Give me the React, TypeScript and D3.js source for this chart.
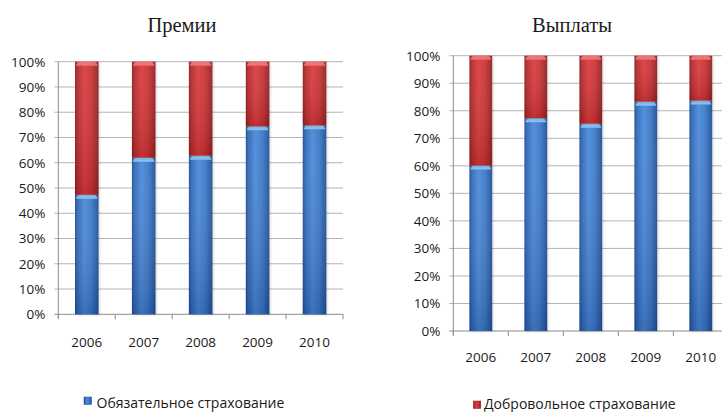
import React from "react";
import * as d3 from "d3";

// Shares of compulsory vs voluntary insurance, percent of total
const years = ["2006", "2007", "2008", "2009", "2010"];
const premiumsCompulsory = [47.3, 62, 62.8, 74.4, 74.8];
const payoutsCompulsory = [60.1, 77.3, 75.3, 83.3, 83.7];
const yTicks = [0, 10, 20, 30, 40, 50, 60, 70, 80, 90, 100];
const titles = ["Премии", "Выплаты"];
const legendLabels = ["Обязательное страхование", "Добровольное страхование"];

const SANS = "'Open Sans', 'Liberation Sans', sans-serif";
const SERIF = "'Liberation Serif', 'DejaVu Serif', serif";
const INK = "#1a1a1a";

type PanelProps = {
  id: string;
  title: string;
  titleX: number;
  values: number[];
  x0: number;
  x1: number;
  yTop: number;
  yBottom: number;
  labelY: number;
  gridRight: number;
};

function Panel({ id, title, titleX, values, x0, x1, yTop, yBottom, labelY, gridRight }: PanelProps) {
  const x = d3
    .scaleBand<string>()
    .domain(years)
    .range([x0, x1])
    .paddingInner(0.586)
    .paddingOuter(0.293);
  const y = d3.scaleLinear().domain([0, 100]).range([yBottom, yTop]);
  const step = x.step();
  const bw = x.bandwidth();
  const stack = d3.stack<number>().keys(["c", "v"]).value((d, k) => (k === "c" ? d : 100 - d));
  const series = stack(values);

  return (
    <g>
      <text x={titleX} y={32} textAnchor="middle" fontFamily={SERIF} fontSize={20.5} fill={INK}>
        {title}
      </text>
      {/* grid lines and y tick labels */}
      {yTicks.map((t) => (
        <g key={t}>
          <line x1={x0 - 4} x2={gridRight} y1={y(t)} y2={y(t)} stroke={t === 0 ? "#8c8c8c" : "#b4b4b4"} strokeWidth={1} />
          <text x={x0 - 13} y={y(t)} dy="0.36em" textAnchor="end" fontFamily={SANS} fontSize={13.5} fill={INK}>
            {t}%
          </text>
        </g>
      ))}
      <line x1={x0} x2={x0} y1={yTop} y2={yBottom + 4} stroke="#8c8c8c" />
      {/* category boundary ticks */}
      {d3.range(years.length + 1).map((i) => (
        <line key={i} x1={x0 + i * step} x2={x0 + i * step} y1={yBottom} y2={yBottom + 5} stroke="#8c8c8c" />
      ))}
      {/* stacked bars */}
      {series.map((s, si) =>
        s.map((d, i) => {
          const bx = x(years[i]) as number;
          const top = y(d[1]);
          const bot = y(d[0]);
          const kind = si === 0 ? "blue" : "red";
          return (
            <g key={`${si}-${i}`}>
              <rect x={bx + 1.5} y={top + 1} width={bw} height={bot - top} fill="#000" opacity={0.12} filter={`url(#${id}-sh)`} />
              <rect x={bx} y={top} width={bw} height={bot - top} fill={`url(#${kind}-h)`} />
              <rect x={bx} y={top} width={bw} height={bot - top} fill={`url(#${kind}-v)`} />
              <path
                d={`M${bx + 1},${top + 4} Q${bx + 2},${top} ${bx + 5},${top} L${bx + bw - 5},${top} Q${bx + bw - 2},${top} ${bx + bw - 1},${top + 4} Z`}
                fill={kind === "blue" ? "#8fc6f4" : "#f07a7a"}
                opacity={0.9}
              />
            </g>
          );
        })
      )}
      {years.map((yr) => (
        <text key={yr} x={(x(yr) as number) + bw / 2} y={labelY} textAnchor="middle" fontFamily={SANS} fontSize={13.5} fill={INK}>
          {yr}
        </text>
      ))}
      <defs>
        <filter id={`${id}-sh`} x="-20%" y="-5%" width="140%" height="110%">
          <feGaussianBlur stdDeviation={1.2} />
        </filter>
      </defs>
    </g>
  );
}

export default function App() {
  return (
    <svg
      width={722}
      height={412}
      style={{ position: "absolute", left: 0, top: 0, background: "#fff" }}
    >
      <defs>
        <linearGradient id="blue-h" x1="0" x2="1" y1="0" y2="0">
          <stop offset="0" stopColor="#1d4d93" />
          <stop offset="0.12" stopColor="#3169ba" />
          <stop offset="0.4" stopColor="#4a8ad9" />
          <stop offset="0.7" stopColor="#3c79c7" />
          <stop offset="1" stopColor="#1f4f96" />
        </linearGradient>
        <linearGradient id="red-h" x1="0" x2="1" y1="0" y2="0">
          <stop offset="0" stopColor="#8e1d1e" />
          <stop offset="0.12" stopColor="#b62a2b" />
          <stop offset="0.4" stopColor="#da3b3d" />
          <stop offset="0.7" stopColor="#c93234" />
          <stop offset="1" stopColor="#901f20" />
        </linearGradient>
        <linearGradient id="blue-v" x1="0" x2="0" y1="0" y2="1">
          <stop offset="0" stopColor="#ffffff" stopOpacity={0.05} />
          <stop offset="1" stopColor="#0b2a5c" stopOpacity={0.25} />
        </linearGradient>
        <linearGradient id="red-v" x1="0" x2="0" y1="0" y2="1">
          <stop offset="0" stopColor="#ffffff" stopOpacity={0.06} />
          <stop offset="1" stopColor="#5c0b0b" stopOpacity={0.2} />
        </linearGradient>
      </defs>
      <Panel
        id="p1"
        title={titles[0]}
        titleX={182}
        values={premiumsCompulsory}
        x0={58.3}
        x1={343}
        yTop={61.7}
        yBottom={314.3}
        labelY={346.5}
        gridRight={343}
      />
      <Panel
        id="p2"
        title={titles[1]}
        titleX={572}
        values={payoutsCompulsory}
        x0={453.3}
        x1={728.3}
        yTop={55.7}
        yBottom={331}
        labelY={361.5}
        gridRight={722}
      />
      {/* legend */}
      <rect x={84} y={397} width={7.5} height={7.5} fill="url(#blue-h)" stroke="#1d4d93" strokeWidth={0.5} />
      <text x={96.5} y={407.5} fontFamily={SANS} fontSize={14} fill={INK}>
        {legendLabels[0]}
      </text>
      <rect x={473.3} y={401} width={7.5} height={7.5} fill="url(#red-h)" stroke="#8e1d1e" strokeWidth={0.5} />
      <text x={484} y={409} fontFamily={SANS} fontSize={14} fill={INK}>
        {legendLabels[1]}
      </text>
    </svg>
  );
}
